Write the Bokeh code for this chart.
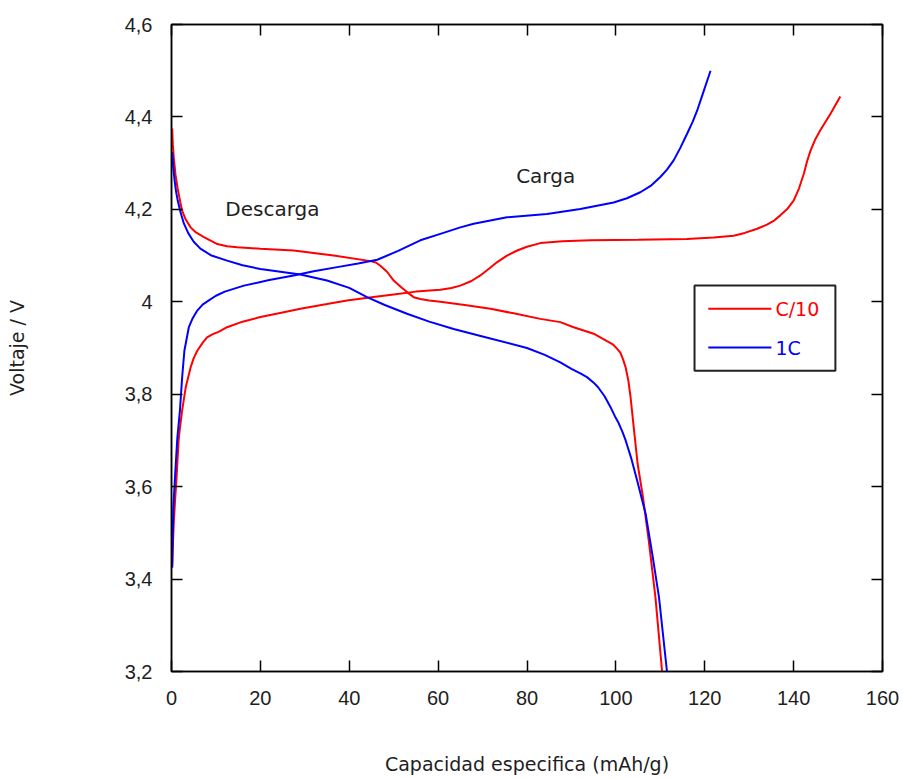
from bokeh.plotting import figure
from bokeh.models import (Range1d, LinearAxis, FixedTicker, CustomJSTickFormatter,
                          Label, BoxAnnotation)
from bokeh.embed import file_html
from bokeh.resources import INLINE

# ---- data ----
c10_dis_x = [0.15, 0.3, 0.5, 0.9, 1.4, 2.0, 2.4, 3.2, 4.3, 5.5, 7.3, 10.3, 12.5, 14.8, 20, 27.5,
             36.5, 44.8, 46, 47, 48.5, 50, 51.5, 53, 54.5, 56, 58, 60.5, 66, 71.8, 77, 83, 87.5,
             90.5, 95, 98, 99.3, 100.3, 101, 101.6, 102.2, 102.8, 103.3, 104.1, 104.9, 106.1,
             107.4, 108.9, 110.4]
c10_dis_v = [4.375, 4.34, 4.313, 4.275, 4.244, 4.215, 4.197, 4.178, 4.161, 4.15, 4.14, 4.125,
             4.12, 4.118, 4.115, 4.111, 4.1, 4.088, 4.085, 4.078, 4.065, 4.046, 4.033, 4.021,
             4.01, 4.006, 4.003, 4.0, 3.993, 3.985, 3.975, 3.963, 3.956, 3.945, 3.931, 3.915,
             3.908, 3.898, 3.89, 3.876, 3.858, 3.83, 3.794, 3.721, 3.649, 3.577, 3.483, 3.361,
             3.2]

c10_chg_x = [0.15, 0.3, 0.5, 0.8, 1.1, 1.6, 2.0, 2.4, 3.2, 4.3, 5.0, 5.8, 7.0, 8.0, 9.3, 10.6,
             12.5, 16, 20, 25, 29, 35, 39.5, 45, 50, 55, 60.5, 63, 65, 67.5, 69.5, 71.5, 73.3,
             75.5, 77.8, 80, 83, 88, 94.3, 105, 116, 122, 126.5, 129, 131.8, 134, 135.5, 137,
             138.5, 140, 141.2, 142.3, 143.0, 143.8, 144.8, 146, 148.3, 150.5]
c10_chg_v = [3.425, 3.47, 3.52, 3.57, 3.613, 3.70, 3.735, 3.765, 3.815, 3.858, 3.878, 3.894,
             3.911, 3.923, 3.93, 3.935, 3.945, 3.957, 3.967, 3.977, 3.985, 3.995, 4.003, 4.010,
             4.016, 4.022, 4.026, 4.03, 4.035, 4.045, 4.057, 4.072, 4.086, 4.1, 4.111, 4.119,
             4.127, 4.131, 4.133, 4.134, 4.136, 4.139, 4.143, 4.149, 4.158, 4.167, 4.175, 4.187,
             4.2, 4.219, 4.245, 4.277, 4.303, 4.327, 4.35, 4.371, 4.407, 4.444]

c1_dis_x = [0.15, 0.4, 0.7, 1.0, 1.4, 2.0, 2.8, 3.8, 5, 6.5, 9, 12.5, 16, 20, 29, 35, 40, 44,
            48, 53, 58, 63.5, 70, 80, 84, 87.5, 90, 92, 93.5, 95, 96, 97.5, 98.8, 99.8, 100.5,
            101.5, 102.2, 103.5, 104.8, 106.7, 108.2, 109.7, 111.5]
c1_dis_v = [4.324, 4.29, 4.262, 4.24, 4.219, 4.195, 4.169, 4.148, 4.13, 4.115, 4.1, 4.089,
            4.079, 4.071, 4.059, 4.046, 4.03, 4.01, 3.993, 3.974, 3.957, 3.941, 3.925, 3.9,
            3.885, 3.869, 3.855, 3.845, 3.837, 3.825, 3.815, 3.795, 3.772, 3.752, 3.74, 3.718,
            3.7, 3.66, 3.613, 3.541, 3.454, 3.361, 3.2]

c1_chg_x = [0.15, 0.4, 0.9, 1.3, 1.9, 2.4, 2.9, 3.9, 4.8, 5.8, 7.0, 8.4, 10, 12, 16.3, 22,
            27.5, 32, 37.3, 42, 46.3, 51, 56, 60.5, 65, 68, 75.5, 84.5, 92, 99.5, 102.5, 105.5,
            108, 110, 111.5, 113, 114.5, 116, 117.3, 118.3, 119.8, 121.3]
c1_chg_v = [3.425, 3.553, 3.639, 3.704, 3.765, 3.837, 3.894, 3.945, 3.965, 3.981, 3.994, 4.003,
            4.013, 4.022, 4.035, 4.047, 4.057, 4.066, 4.075, 4.083, 4.091, 4.11, 4.133, 4.147,
            4.161, 4.169, 4.183, 4.19, 4.201, 4.215, 4.224, 4.237, 4.252, 4.27, 4.286, 4.306,
            4.333, 4.363, 4.39, 4.414, 4.457, 4.5]

x_ticks = [0, 20, 40, 60, 80, 100, 120, 140, 160]
y_ticks = [3.2, 3.4, 3.6, 3.8, 4.0, 4.2, 4.4, 4.6]

series_names = ["C/10", "1C"]
series_colors = ["#ff0000", "#0000ff"]

FONT = "Liberation Sans"
WIDE = "DejaVu Sans"
TXT = "#1e1e1e"

p = figure(width=903, height=778, output_backend="svg", toolbar_location=None,
           x_range=Range1d(0, 160), y_range=Range1d(3.2, 4.6),
           x_axis_label="Capacidad especifica (mAh/g)", y_axis_label="Voltaje / V")
p.min_border_left = 171
p.min_border_right = 21
p.min_border_top = 24
p.min_border_bottom = 107
p.background_fill_color = "white"
p.border_fill_color = "white"
p.outline_line_color = "black"
p.outline_line_width = 1.5
p.xgrid.visible = False
p.ygrid.visible = False

fmt_y = CustomJSTickFormatter(code="return tick.toFixed(1).replace('.', ',').replace(',0', '');")
fmt_x = CustomJSTickFormatter(code="return tick.toFixed(0);")
blank = CustomJSTickFormatter(code="return '';")

for ax in (p.xaxis[0], p.yaxis[0]):
    ax.major_tick_in = 11
    ax.major_tick_out = 0
    ax.minor_tick_in = 0
    ax.minor_tick_out = 0
    ax.major_tick_line_color = "black"
    ax.major_tick_line_width = 1.5
    ax.axis_line_color = "black"
    ax.axis_line_width = 1.5
    ax.major_label_text_font = FONT
    ax.major_label_text_font_size = "20px"
    ax.major_label_text_color = TXT
    ax.axis_label_text_font = WIDE
    ax.axis_label_text_font_size = "19px"
    ax.axis_label_text_font_style = "normal"
    ax.axis_label_text_color = TXT

p.xaxis[0].ticker = FixedTicker(ticks=x_ticks)
p.xaxis[0].formatter = fmt_x
p.xaxis[0].major_label_standoff = 19
p.xaxis[0].axis_label_standoff = 45
p.yaxis[0].ticker = FixedTicker(ticks=y_ticks)
p.yaxis[0].formatter = fmt_y
p.yaxis[0].major_label_standoff = 19
p.yaxis[0].axis_label_standoff = 94

top = LinearAxis(ticker=FixedTicker(ticks=x_ticks), formatter=blank)
right = LinearAxis(ticker=FixedTicker(ticks=y_ticks), formatter=blank)
for ax in (top, right):
    ax.major_tick_in = 11
    ax.major_tick_out = 0
    ax.minor_tick_in = 0
    ax.minor_tick_out = 0
    ax.major_tick_line_color = "black"
    ax.major_tick_line_width = 1.5
    ax.axis_line_color = "black"
    ax.axis_line_width = 1.5
    ax.major_label_text_font_size = "1px"
    ax.major_label_standoff = 0
p.add_layout(top, "above")
p.add_layout(right, "right")

# curves
p.line(c10_dis_x, c10_dis_v, line_color=series_colors[0], line_width=2)
p.line(c10_chg_x, c10_chg_v, line_color=series_colors[0], line_width=2)
p.line(c1_dis_x, c1_dis_v, line_color=series_colors[1], line_width=2)
p.line(c1_chg_x, c1_chg_v, line_color=series_colors[1], line_width=2)

# annotations
p.add_layout(Label(x=22.7, y=4.2, text="Descarga", text_align="center", text_baseline="middle",
                   text_font=WIDE, text_font_size="20px", text_color=TXT))
p.add_layout(Label(x=84.2, y=4.273, text="Carga", text_align="center", text_baseline="middle",
                   text_font=WIDE, text_font_size="20px", text_color=TXT))

# legend (drawn manually so each label takes its series colour)
LEG_L, LEG_R, LEG_T, LEG_B = 117.7, 149.4, 4.035, 3.851
p.add_layout(BoxAnnotation(left=LEG_L, right=LEG_R, top=LEG_T, bottom=LEG_B,
                           fill_color="white", fill_alpha=1.0, line_color="#222222",
                           line_alpha=1.0, line_width=2, level="underlay"))
leg_rows = [3.985, 3.901]
for name, col, yy in zip(series_names, series_colors, leg_rows):
    p.line([120.8, 135.0], [yy, yy], line_color=col, line_width=2)
    p.add_layout(Label(x=135.9, y=yy, text=name, text_align="left", text_baseline="middle",
                       text_font=WIDE, text_font_size="19px", text_color=col))

open("out.html", "w").write(file_html(p, INLINE))
